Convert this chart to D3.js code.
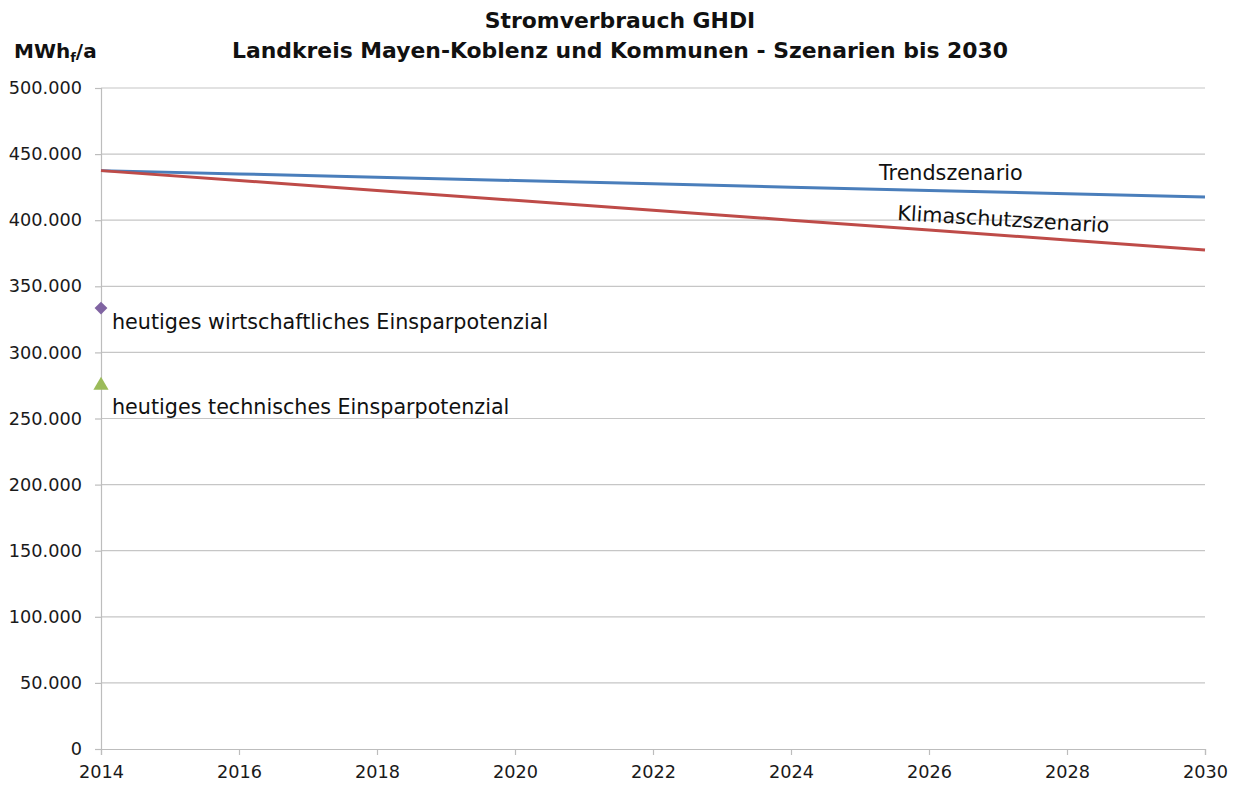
<!DOCTYPE html>
<html>
<head>
<meta charset="utf-8">
<script src="https://cdn.jsdelivr.net/npm/d3@7"></script>
<style>
  html, body { margin: 0; padding: 0; background: #fff; }
  svg { display: block; font-family: "DejaVu Sans", Verdana, sans-serif; }
</style>
</head>
<body>
<svg id="chart" width="1236" height="787"></svg>
<script>
// Scenario years and electricity consumption (MWh/a)
const years = [2014, 2016, 2018, 2020, 2022, 2024, 2026, 2028, 2030];
const trendValues = [437500, 435000, 432500, 430000, 427500, 425000, 422500, 420000, 417500];
const klimaValues = [437500, 430000, 422500, 415000, 407500, 400000, 392500, 385000, 377500];
const wirtschaftlich = [{ year: 2014, value: 333500 }];
const technisch = [{ year: 2014, value: 275000 }];
const yTicks = [0, 50000, 100000, 150000, 200000, 250000, 300000, 350000, 400000, 450000, 500000];
const xTicks = [2014, 2016, 2018, 2020, 2022, 2024, 2026, 2028, 2030];

const svg = d3.select("#chart");
const margin = { left: 101, right: 31, top: 88, bottom: 38 };
const W = 1236, H = 787;

const x = d3.scaleLinear().domain([2014, 2030]).range([margin.left, W - margin.right]);
const y = d3.scaleLinear().domain([0, 500000]).range([H - margin.bottom, margin.top]);

const fmt = v => v === 0 ? "0" : d3.format(",")(v).replace(/,/g, ".");

// horizontal gridlines
svg.append("g").selectAll("line").data(yTicks.filter(d => d > 0)).join("line")
  .attr("x1", margin.left).attr("x2", W - margin.right)
  .attr("y1", d => y(d)).attr("y2", d => y(d))
  .attr("stroke", "#c6c6c6").attr("stroke-width", 1.2);

// y axis
const yAxis = svg.append("g").attr("transform", `translate(${margin.left},0)`)
  .call(d3.axisLeft(y).tickValues(yTicks).tickFormat(fmt).tickSize(6).tickPadding(13));
yAxis.select(".domain").attr("stroke", "#bdbdbd").attr("stroke-width", 1.2);
yAxis.selectAll(".tick line").attr("stroke", "#bdbdbd").attr("stroke-width", 1.2);
yAxis.selectAll("text").attr("font-size", 17.7).attr("fill", "#1a1a1a")
  .attr("font-family", "DejaVu Sans, sans-serif");

// x axis
const xAxis = svg.append("g").attr("transform", `translate(0,${y(0)})`)
  .call(d3.axisBottom(x).tickValues(xTicks).tickFormat(d3.format("d")).tickSize(6).tickPadding(10));
xAxis.select(".domain").attr("stroke", "#bdbdbd").attr("stroke-width", 1.2);
xAxis.selectAll(".tick line").attr("stroke", "#bdbdbd").attr("stroke-width", 1.2);
xAxis.selectAll("text").attr("font-size", 17.7).attr("fill", "#1a1a1a")
  .attr("font-family", "DejaVu Sans, sans-serif");

// scenario lines
const line = d3.line().x((d, i) => x(years[i])).y(d => y(d));
svg.append("path").datum(trendValues).attr("d", line)
  .attr("fill", "none").attr("stroke", "#4a7ebb").attr("stroke-width", 3);
svg.append("path").datum(klimaValues).attr("d", line)
  .attr("fill", "none").attr("stroke", "#be4b48").attr("stroke-width", 3);

// savings potential markers
svg.append("g").selectAll("path").data(wirtschaftlich).join("path")
  .attr("transform", d => `translate(${x(d.year)},${y(d.value)})`)
  .attr("d", d3.symbol(d3.symbolDiamond2, 105))
  .attr("fill", "#8064a2");
svg.append("g").selectAll("path").data(technisch).join("path")
  .attr("transform", d => `translate(${x(d.year)},${y(d.value)})`)
  .attr("d", d3.symbol(d3.symbolTriangle, 100))
  .attr("fill", "#9bbb59");

// annotations
const ann = svg.append("g").attr("font-size", 20.7).attr("fill", "#111");
ann.append("text").attr("x", 112).attr("y", y(wirtschaftlich[0].value) + 21)
  .text("heutiges wirtschaftliches Einsparpotenzial");
ann.append("text").attr("x", 112).attr("y", y(technisch[0].value) + 29)
  .text("heutiges technisches Einsparpotenzial");
ann.append("text").attr("x", 879).attr("y", 180).text("Trendszenario");
ann.append("text").attr("transform", "translate(897,220) rotate(3.4)").text("Klimaschutzszenario");

// title and unit
const title = svg.append("g").attr("font-weight", "bold").attr("font-size", 21.9)
  .attr("text-anchor", "middle").attr("fill", "#111");
title.append("text").attr("x", 620).attr("y", 28).text("Stromverbrauch GHDI");
title.append("text").attr("x", 620).attr("y", 58).text("Landkreis Mayen-Koblenz und Kommunen - Szenarien bis 2030");

const unit = svg.append("text").attr("x", 14).attr("y", 58)
  .attr("font-weight", "bold").attr("font-size", 20).attr("fill", "#111");
unit.append("tspan").text("MWh");
unit.append("tspan").attr("font-size", 13).attr("dy", 4).text("f");
unit.append("tspan").attr("dy", -4).text("/a");
</script>
</body>
</html>
